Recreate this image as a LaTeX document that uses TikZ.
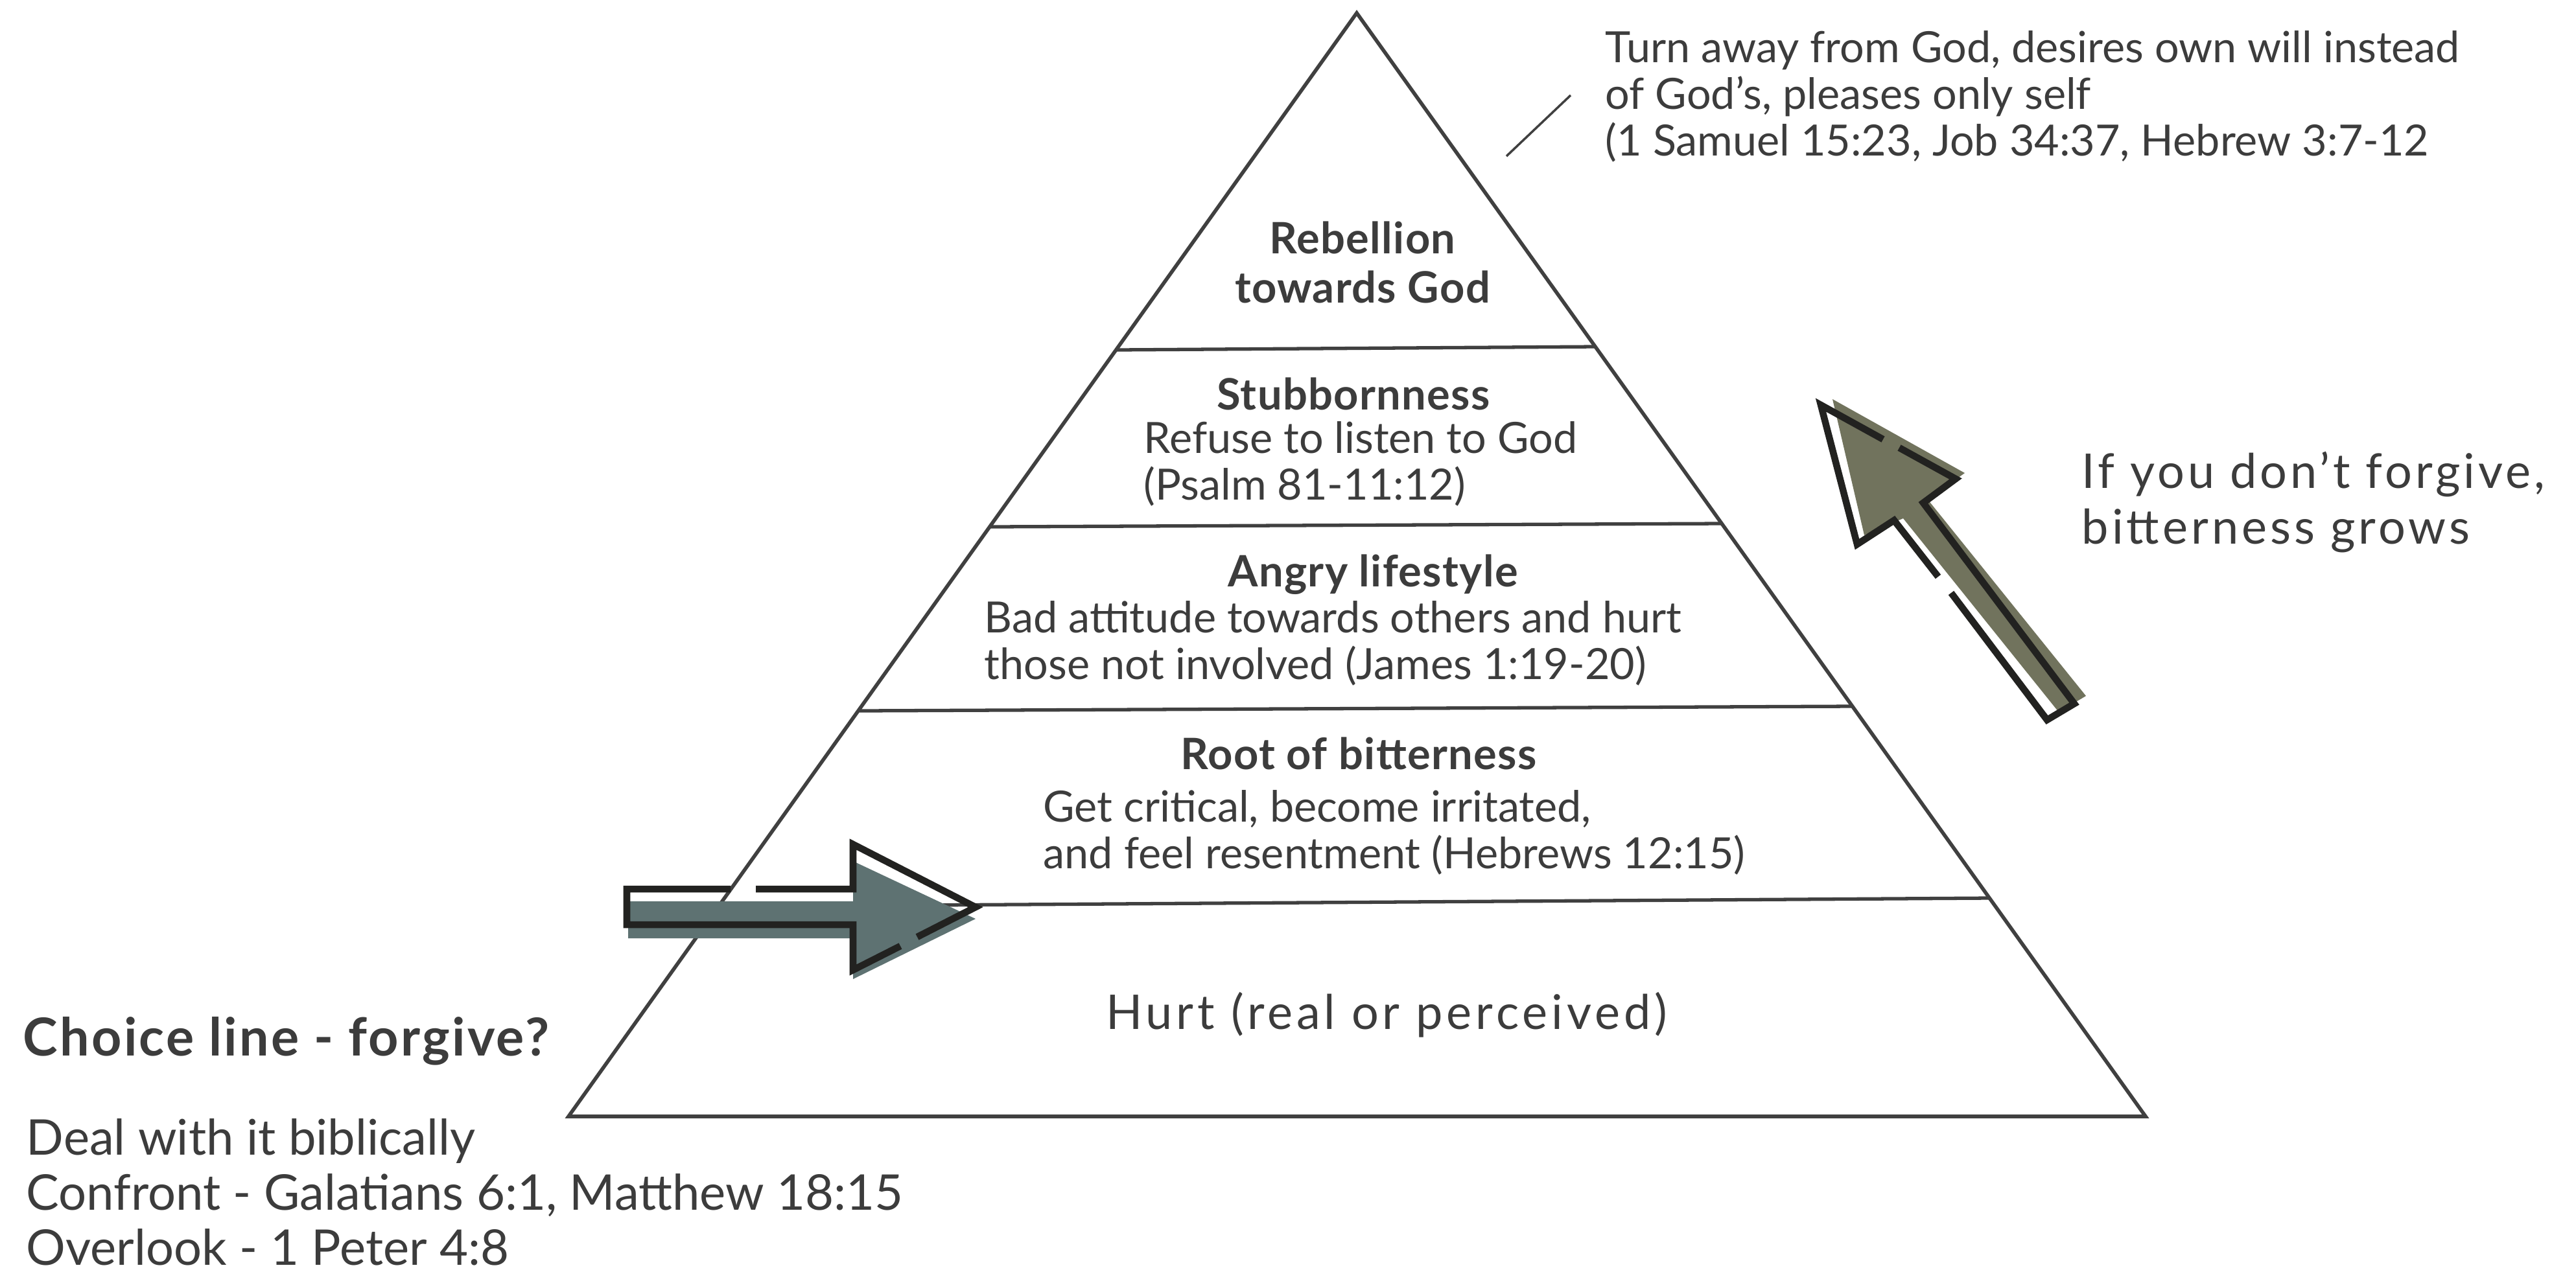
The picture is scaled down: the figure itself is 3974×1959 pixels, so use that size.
\documentclass[tikz,border=0pt]{standalone}
\usepackage{fontspec}
\setmainfont{Lato}
\definecolor{txt}{HTML}{3C3C3C}
\definecolor{linec}{HTML}{404040}
\definecolor{outl}{HTML}{222220}
\definecolor{bluefill}{HTML}{5E7272}
\definecolor{olivefill}{HTML}{71735D}
\begin{document}
\begin{tikzpicture}[x=0.01cm,y=-0.01cm,
  pyr/.style={draw=linec, line width=1.6pt, line join=miter},
  tier/.style={draw=linec, line width=1.5pt},
  body/.style={text=txt, inner sep=0pt, font=\fontsize{18.9}{20.5}\selectfont, align=left, anchor=west},
  head/.style={text=txt, inner sep=0pt, font=\fontsize{19}{21.5}\selectfont\bfseries\addfontfeatures{LetterSpace=2}, align=center},
  big/.style={text=txt, inner sep=0pt, font=\fontsize{21.6}{24.2}\selectfont, align=left, anchor=west},
  arrowline/.style={draw=outl, line width=3pt, line join=miter, line cap=butt},
  leader/.style={draw=linec, line width=1pt}]
\useasboundingbox (0,0) rectangle (3974,1959);

% pyramid
\coordinate (apex) at (2093,20);
\coordinate (bl) at (877,1723);
\coordinate (br) at (3310,1723);
\draw[pyr] (apex) -- (br) -- (bl) -- cycle;
\coordinate (l1a) at (1723,540); \coordinate (l1b) at (2461,535);
\coordinate (l2a) at (1528,813); \coordinate (l2b) at (2656,808);
\coordinate (l3a) at (1326,1097); \coordinate (l3b) at (2858,1090);
\coordinate (l4a) at (1115,1399); \coordinate (l4b) at (3069,1386);
\draw[tier] (l1a) -- (l1b);
\draw[tier] (l2a) -- (l2b);
\draw[tier] (l3a) -- (l3b);
\draw[tier] (l4a) -- (l4b);

% pyramid texts
\node[head] (reb) at (2102,405) {Rebellion\\towards God};
\node[head] (stub) at (2088,608) {Stubbornness};
\node[body] (stubt) at (1764,716) {Refuse to listen to God\\(Psalm 81-11:12)};
\node[head] (angry) at (2118,887) {Angry lifestyle};
\node[body] (angryt) at (1518,993) {Bad attitude towards others and hurt\\those not involved (James 1:19-20)};
\node[head] (root) at (2096,1163) {Root of bitterness};
\node[body] (roott) at (1609,1285) {Get critical, become irritated,\\and feel resentment (Hebrews 12:15)};
\node[text=txt, inner sep=0pt, font=\fontsize{21}{24}\selectfont\addfontfeatures{LetterSpace=8}] (hurt) at (2139,1566) {Hurt (real or perceived)};

% top right note
\node[body] (turn) at (2476,149) {Turn away from God, desires own will instead\\of God’s, pleases only self\\(1 Samuel 15:23, Job 34:37, Hebrew 3:7-12};
\coordinate (lead1) at (2324,241);
\coordinate (lead2) at (2423,147);
\draw[leader] (lead1) -- (lead2);

% right text
\node[text=txt, inner sep=0pt, font=\fontsize{21}{24.5}\selectfont\addfontfeatures{LetterSpace=6.8}, align=left, anchor=west] (grow) at (3211,775) {If you don’t forgive,\\bitterness grows};

% bottom left text
\node[text=txt, inner sep=0pt, font=\fontsize{23}{25}\selectfont\bfseries\addfontfeatures{LetterSpace=4}, anchor=west] (choice) at (35,1607) {Choice line - forgive?};
\node[big] (deal) at (40,1840) {Deal with it biblically\\Confront - Galatians 6:1, Matthew 18:15\\Overlook - 1 Peter 4:8};

% left (horizontal) arrow
\fill[bluefill] (969,1391) -- (1316,1391) -- (1316,1329) -- (1505,1418) -- (1316,1511) -- (1316,1448) -- (969,1448) -- cycle;
\draw[arrowline] (1166,1372) -- (1316,1372) -- (1316,1303) -- (1505,1400) -- (1415,1446);
\draw[arrowline] (1389,1460) -- (1316,1497) -- (1316,1427) -- (967,1427) -- (967,1372) -- (1127,1372);

% up arrow
\fill[olivefill] (2827,616) -- (3031,730) -- (2974,771) -- (3218,1074) -- (3176,1099) -- (2936,800) -- (2876,826) -- cycle;
\draw[arrowline] (2930,691) -- (3017,739) -- (2967,776) -- (3200,1086) -- (3158,1111) -- (3010,915);
\draw[arrowline] (2990,890) -- (2922,803) -- (2865,840) -- (2809,625) -- (2905,678);
\end{tikzpicture}
\end{document}
